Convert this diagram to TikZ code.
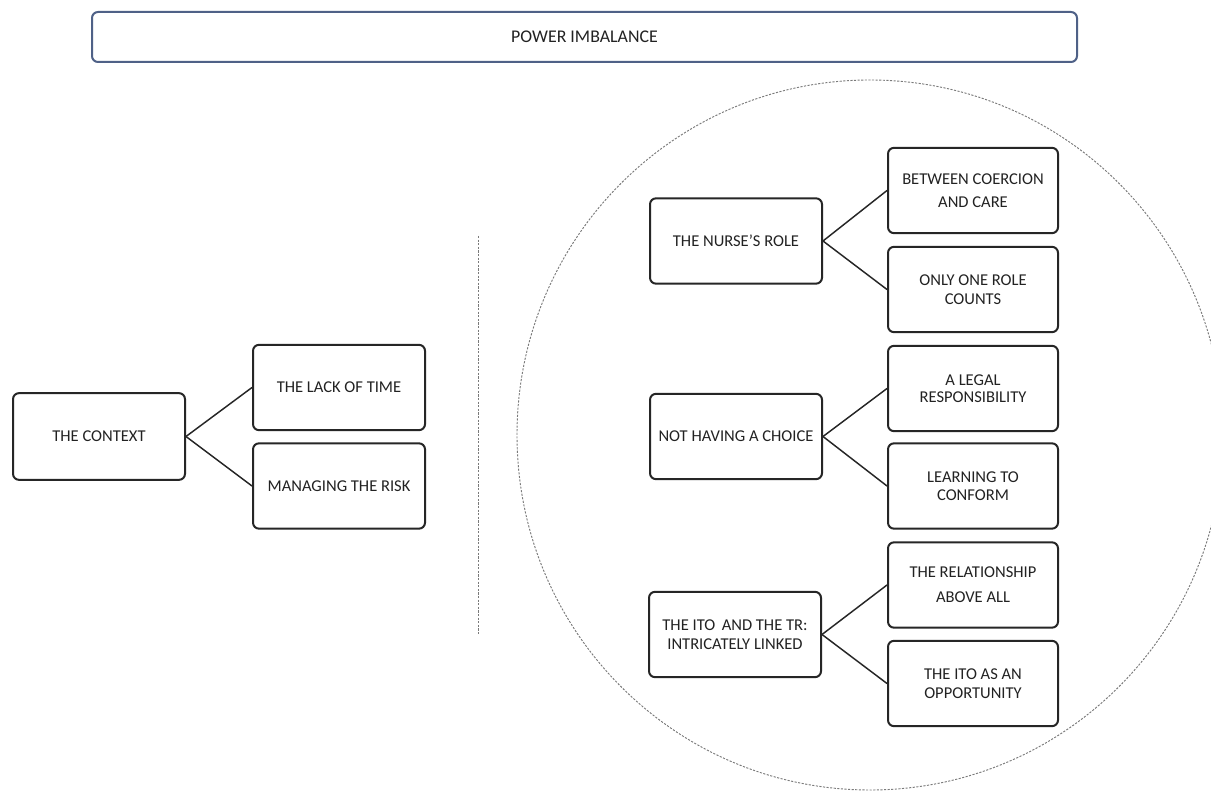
\documentclass[tikz,border=0pt]{standalone}
\usepackage{fontspec}
\setmainfont{Carlito}
\usetikzlibrary{shapes.geometric}
\definecolor{titleblue}{HTML}{4F6187}
\definecolor{boxline}{HTML}{262626}
\definecolor{dashgray}{HTML}{7A7A7A}
\definecolor{txt}{HTML}{222222}
\tikzset{
  catbox/.style={draw=boxline, line width=1.5pt, rounded corners=4.5pt, fill=white,
    minimum width=129pt, minimum height=64pt, inner sep=0pt, align=center, text=txt,
    font=\fontsize{12.4pt}{14.5pt}\selectfont},
  subbox/.style={catbox, minimum width=127.5pt},
  titlebox/.style={draw=titleblue, line width=1.5pt, rounded corners=4.5pt,
    minimum width=738.75pt, minimum height=37.5pt, inner sep=0pt, text=txt,
    font=\fontsize{13.4pt}{15pt}\selectfont},
  link/.style={draw=boxline, line width=1.1pt},
  dashline/.style={draw=dashgray, line width=0.7pt, dash pattern=on 1.6pt off 1.1pt}
}
\begin{document}
\begin{tikzpicture}[x=0.75pt,y=-0.75pt]
\useasboundingbox (0,0) rectangle (1211,791);
\clip (0,0) rectangle (1211,791);
\fill[white] (0,0) rectangle (1211,791);

% title
\node[titlebox] (title) at (584.5,37) {POWER IMBALANCE};

% dashed circle and divider
\draw[dashline] (870,435) ellipse [x radius=353, y radius=355];
\coordinate (divtop) at (478,236);
\coordinate (divbot) at (478,635);
\draw[dashline] (divtop) -- (divbot);

% left group
\node[catbox, minimum height=65pt] (context) at (99,436.5) {THE CONTEXT};
\node[catbox] (lack) at (339,387.5) {THE LACK OF TIME};
\node[catbox] (risk) at (339,486) {MANAGING THE RISK};

% right groups
\node[catbox] (nurse) at (736,241) {THE NURSE'S ROLE};
\node[subbox] (coerc) at (973,190.5) {BETWEEN COERCION\\[3pt]AND CARE};
\node[subbox] (onerole) at (973,289.5) {ONLY ONE ROLE\\[-0.5pt]COUNTS};

\node[catbox] (choice) at (736,436.5) {NOT HAVING A CHOICE};
\node[subbox] (legal) at (973,388.5) {A LEGAL\\[-2pt]RESPONSIBILITY};
\node[subbox] (conform) at (973,486) {LEARNING TO\\[-1pt]CONFORM};

\node[catbox] (ito) at (735,634.5) {THE ITO\, AND THE TR:\\[0pt]INTRICATELY LINKED};
\node[subbox] (relat) at (973,585) {THE RELATIONSHIP\\[4.5pt]ABOVE ALL};
\node[subbox] (opp) at (973,683.5) {THE ITO AS AN\\[0pt]OPPORTUNITY};

% connectors
\draw[link] (context.east) -- (lack.west);
\draw[link] (context.east) -- (risk.west);
\draw[link] (nurse.east) -- (coerc.west);
\draw[link] (nurse.east) -- (onerole.west);
\draw[link] (choice.east) -- (legal.west);
\draw[link] (choice.east) -- (conform.west);
\draw[link] (ito.east) -- (relat.west);
\draw[link] (ito.east) -- (opp.west);
\end{tikzpicture}
\end{document}
